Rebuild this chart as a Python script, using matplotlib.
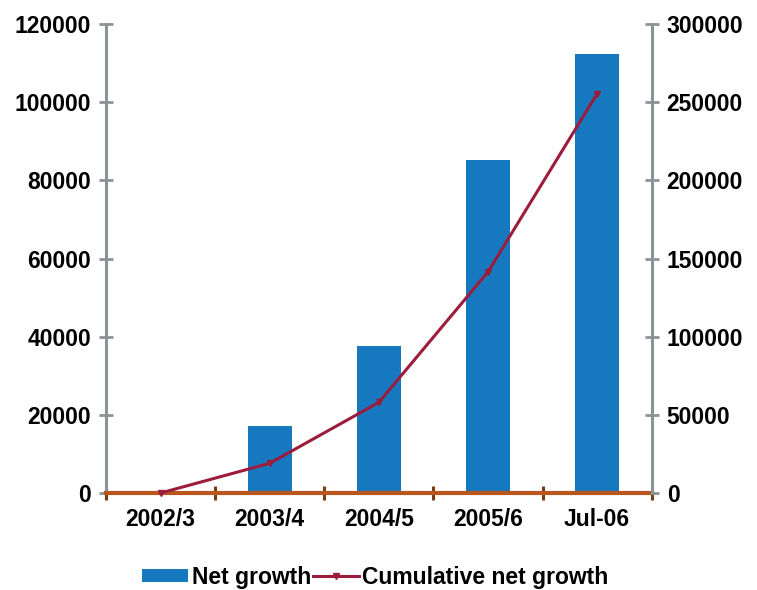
import numpy as np
import matplotlib
matplotlib.use("Agg")
import matplotlib.pyplot as plt

# --- data ---
periods = ["2002/3", "2003/4", "2004/5", "2005/6", "Jul-06"]
net_growth = [0, 17200, 37700, 85200, 112300]
cumulative = [0, 19000, 58000, 141500, 255500]

left_ticks = [0, 20000, 40000, 60000, 80000, 100000, 120000]
right_ticks = [0, 50000, 100000, 150000, 200000, 250000, 300000]

BAR_BLUE = "#1679BF"
LINE_RED = "#9C1C3C"
AXIS_GREY = "#8A9497"
BASE_ORANGE = "#B8561E"
TICK_BROWN = "#7A3C12"

plt.rcParams["font.family"] = ["Liberation Sans", "DejaVu Sans"]
plt.rcParams["font.weight"] = "bold"
FS = 16.5

fig = plt.figure(figsize=(7.57, 5.90), dpi=100)
ax = fig.add_axes([0.140, 0.1644, 0.721, 0.7949])
ax2 = ax.twinx()

x = np.arange(len(periods))
bars = ax.bar(x, net_growth, width=0.4, color=BAR_BLUE, label="Net growth", zorder=2)
line, = ax2.plot(x, cumulative, color=LINE_RED, lw=2.2, marker="v", ms=4.5,
                 label="Cumulative net growth", zorder=3, clip_on=False)

ax.set_xlim(-0.5, len(periods) - 0.5)
ax.set_ylim(0, 120000)
ax2.set_ylim(0, 300000)

ax.set_yticks(left_ticks)
ax.set_yticklabels([str(v) for v in left_ticks], fontsize=FS, fontweight="bold")
ax2.set_yticks(right_ticks)
ax2.set_yticklabels([str(v) for v in right_ticks], fontsize=FS, fontweight="bold")

# category boundaries carry the tick marks, labels sit in between
ax.set_xticks(np.arange(-0.5, len(periods), 1.0))
ax.set_xticklabels([])
ax.set_xticks(x, minor=True)
ax.set_xticklabels(periods, minor=True, fontsize=FS, fontweight="bold")
ax.tick_params(axis="x", which="major", direction="inout", length=9.5, width=2.2,
               color=TICK_BROWN)
ax.tick_params(axis="x", which="minor", length=0, pad=11)

ax.tick_params(axis="y", direction="inout", length=9.5, width=2.0, color=AXIS_GREY, pad=6)
ax2.tick_params(axis="y", direction="inout", length=9.5, width=2.0, color=AXIS_GREY, pad=6)

for a in (ax, ax2):
    a.spines["top"].set_visible(False)
    a.spines["bottom"].set_visible(False)
ax.spines["right"].set_visible(False)
ax2.spines["left"].set_visible(False)
ax.spines["left"].set_color(AXIS_GREY)
ax.spines["left"].set_linewidth(2.2)
ax2.spines["right"].set_color(AXIS_GREY)
ax2.spines["right"].set_linewidth(2.2)

ax2.axhline(0, color=BASE_ORANGE, lw=3.0, zorder=2.5, clip_on=False)

fig.legend([bars, line], ["Net growth", "Cumulative net growth"],
           loc="center", bbox_to_anchor=(0.496, 0.022), ncol=2, frameon=False,
           prop={"size": FS, "weight": "bold"}, handlelength=2.0, handleheight=0.55,
           handletextpad=0.15, columnspacing=0.1)

fig.savefig("out.png", dpi=100)
